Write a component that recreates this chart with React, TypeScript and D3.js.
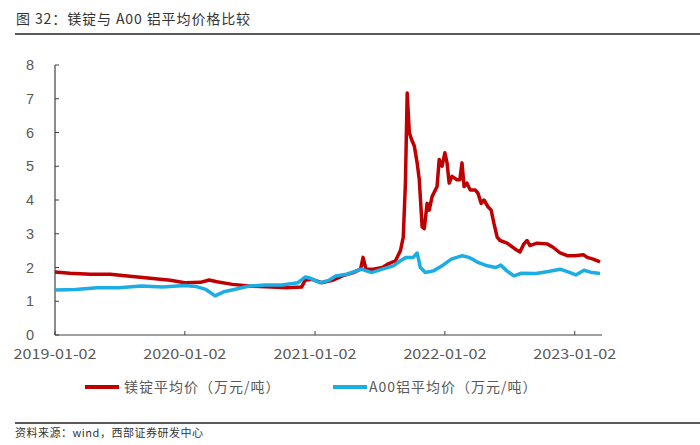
import React from "react";
import * as d3 from "d3";

const title = "图 32：镁锭与 A00 铝平均价格比较";
const source = "资料来源：wind，西部证券研发中心";
const seriesNames = ["镁锭平均价（万元/吨）", "A00铝平均价（万元/吨）"];
const xTickLabels = ["2019-01-02", "2020-01-02", "2021-01-02", "2022-01-02", "2023-01-02"];
const yTicks = [0, 1, 2, 3, 4, 5, 6, 7, 8];

const mgDates = [
  "2019-01-02", "2019-02-13", "2019-04-11", "2019-06-06", "2019-08-01", "2019-09-27", "2019-11-22",
  "2020-01-02", "2020-02-15", "2020-03-10", "2020-04-01", "2020-05-15", "2020-07-01", "2020-09-01",
  "2020-10-15", "2020-11-25", "2020-12-05", "2020-12-25", "2021-01-20", "2021-02-20", "2021-03-20",
  "2021-04-20", "2021-05-10", "2021-05-17", "2021-05-25", "2021-06-15", "2021-07-10", "2021-07-25",
  "2021-08-16", "2021-08-30", "2021-09-07", "2021-09-13", "2021-09-18", "2021-09-24", "2021-09-30",
  "2021-10-08", "2021-10-16", "2021-10-22", "2021-10-30", "2021-11-05", "2021-11-13", "2021-11-19",
  "2021-11-27", "2021-12-11", "2021-12-17", "2021-12-25", "2022-01-02", "2022-01-08", "2022-01-14",
  "2022-01-22", "2022-02-05", "2022-02-13", "2022-02-19", "2022-02-25", "2022-03-05", "2022-03-14",
  "2022-03-28", "2022-04-05", "2022-04-14", "2022-04-22", "2022-05-03", "2022-05-12", "2022-05-20",
  "2022-05-29", "2022-06-06", "2022-06-26", "2022-07-18", "2022-08-01", "2022-08-12", "2022-08-21",
  "2022-08-29", "2022-09-18", "2022-10-16", "2022-11-02", "2022-11-22", "2022-12-12", "2023-01-03",
  "2023-01-26", "2023-02-06", "2023-02-23", "2023-03-14",
];
const mgValues = [
  1.87, 1.83, 1.8, 1.8, 1.74, 1.68, 1.62,
  1.55, 1.56, 1.63, 1.58, 1.5, 1.45, 1.42,
  1.4, 1.42, 1.62, 1.65, 1.55, 1.62, 1.75,
  1.85, 1.95, 2.3, 1.95, 1.95, 2.0, 2.1,
  2.2, 2.5, 2.9, 4.5, 7.17, 6.0, 5.8,
  5.6, 5.1, 4.6, 3.2, 3.15, 3.9, 3.7,
  4.1, 4.4, 5.2, 5.0, 5.4, 5.1, 4.5,
  4.7, 4.6, 4.6, 5.1, 4.4, 4.5, 4.3,
  4.3, 4.2, 3.9, 4.0, 3.8, 3.7, 3.3,
  2.9, 2.8, 2.72, 2.55, 2.46, 2.7, 2.8,
  2.65, 2.72, 2.7, 2.6, 2.43, 2.35, 2.35,
  2.38, 2.3, 2.25, 2.17,
];

const alDates = [
  "2019-01-02", "2019-03-01", "2019-05-01", "2019-07-01", "2019-09-01", "2019-11-01", "2020-01-02",
  "2020-02-01", "2020-03-01", "2020-03-27", "2020-04-20", "2020-05-20", "2020-07-01", "2020-08-15",
  "2020-10-01", "2020-11-15", "2020-12-06", "2020-12-20", "2021-01-15", "2021-02-10", "2021-03-01",
  "2021-04-01", "2021-05-12", "2021-06-10", "2021-07-10", "2021-08-10", "2021-08-30", "2021-09-15",
  "2021-10-05", "2021-10-16", "2021-10-25", "2021-11-08", "2021-12-01", "2021-12-25", "2022-01-20",
  "2022-02-20", "2022-03-10", "2022-03-20", "2022-04-05", "2022-05-01", "2022-05-25", "2022-06-08",
  "2022-06-25", "2022-07-15", "2022-08-05", "2022-09-15", "2022-10-20", "2022-11-22", "2022-12-20",
  "2023-01-05", "2023-01-28", "2023-02-20", "2023-03-14",
];
const alValues = [
  1.33, 1.35, 1.4, 1.4, 1.45, 1.42, 1.47,
  1.44, 1.35, 1.16, 1.28, 1.35, 1.45, 1.48,
  1.48, 1.55, 1.72, 1.68, 1.55, 1.62, 1.75,
  1.8, 1.95, 1.85, 1.95, 2.05, 2.2, 2.3,
  2.3, 2.43, 2.0, 1.85, 1.9, 2.05, 2.25,
  2.35, 2.3, 2.25, 2.15, 2.05, 2.0, 2.07,
  1.9, 1.75, 1.83, 1.82, 1.88, 1.95, 1.85,
  1.78, 1.92, 1.85, 1.82,
];

const RED = "#C00000";
const BLUE = "#1CADE4";
const TEXT = "#595959";
const CJK = "'Noto Sans CJK SC', 'Noto Sans', sans-serif";

export default function App() {
  const W = 700, H = 445;
  const left = 55, right = 602, top = 65, bottom = 335;
  const parse = d3.timeParse("%Y-%m-%d");
  const x = d3
    .scaleTime()
    .domain([parse("2019-01-02")!, parse("2023-03-14")!])
    .range([left, right - 2]);
  const y = d3.scaleLinear().domain([0, 8]).range([bottom, top]);

  const mg = mgDates.map((d, i) => ({ d: parse(d)!, v: mgValues[i] }));
  const al = alDates.map((d, i) => ({ d: parse(d)!, v: alValues[i] }));
  const line = d3
    .line<{ d: Date; v: number }>()
    .x((p) => x(p.d))
    .y((p) => y(p.v));

  return (
    <svg
      width={W}
      height={H}
      style={{ position: "absolute", left: 0, top: 0, background: "#fff" }}
    >
      <rect x={0} y={0} width={W} height={H} fill="#fff" />
      <text x={16} y={24} fontFamily={CJK} fontSize={14} fill="#333" letterSpacing={0.9}>
        {title}
      </text>
      <line x1={15} x2={700} y1={34} y2={34} stroke="#222" strokeWidth={1.5} />

      {/* y axis */}
      <line x1={left} x2={left} y1={top} y2={bottom} stroke="#404040" strokeWidth={1.2} />
      {yTicks.map((t) => (
        <g key={t}>
          <line x1={left} x2={left + 4} y1={y(t)} y2={y(t)} stroke="#404040" strokeWidth={1} />
          <text
            x={34}
            y={y(t)}
            dy="0.36em"
            textAnchor="end"
            fontFamily="'Liberation Sans', Arial, sans-serif"
            fontSize={14.5}
            fill={TEXT}
          >
            {t}
          </text>
        </g>
      ))}

      {/* x axis */}
      <line x1={left} x2={right} y1={bottom} y2={bottom} stroke="#404040" strokeWidth={1.2} />
      {xTickLabels.map((t) => {
        const px = x(parse(t)!);
        return (
          <g key={t}>
            <line x1={px} x2={px} y1={bottom} y2={bottom - 4} stroke="#404040" strokeWidth={1} />
            <text
              x={px}
              y={bottom + 19}
              dy="0.36em"
              textAnchor="middle"
              fontFamily={CJK}
              fontSize={14}
              fill={TEXT}
              textLength={83}
              lengthAdjust="spacingAndGlyphs"
            >
              {t}
            </text>
          </g>
        );
      })}

      <path d={line(mg) || ""} fill="none" stroke={RED} strokeWidth={3.5} strokeLinejoin="round" />
      <path d={line(al) || ""} fill="none" stroke={BLUE} strokeWidth={3.5} strokeLinejoin="round" />

      {/* legend */}
      <line x1={85} x2={119} y1={387} y2={387} stroke={RED} strokeWidth={4} />
      <text x={124} y={387} dy="0.36em" fontFamily={CJK} fontSize={14} fill={TEXT} letterSpacing={1}>
        {seriesNames[0]}
      </text>
      <line x1={333} x2={367} y1={387} y2={387} stroke={BLUE} strokeWidth={4} />
      <text x={369} y={387} dy="0.36em" fontFamily={CJK} fontSize={14} fill={TEXT} letterSpacing={1}>
        {seriesNames[1]}
      </text>

      <line x1={15} x2={700} y1={423} y2={423} stroke="#222" strokeWidth={1.5} />
      <text x={15} y={437} fontFamily={CJK} fontSize={11} fill="#333" letterSpacing={0.5}>
        {source}
      </text>
    </svg>
  );
}
